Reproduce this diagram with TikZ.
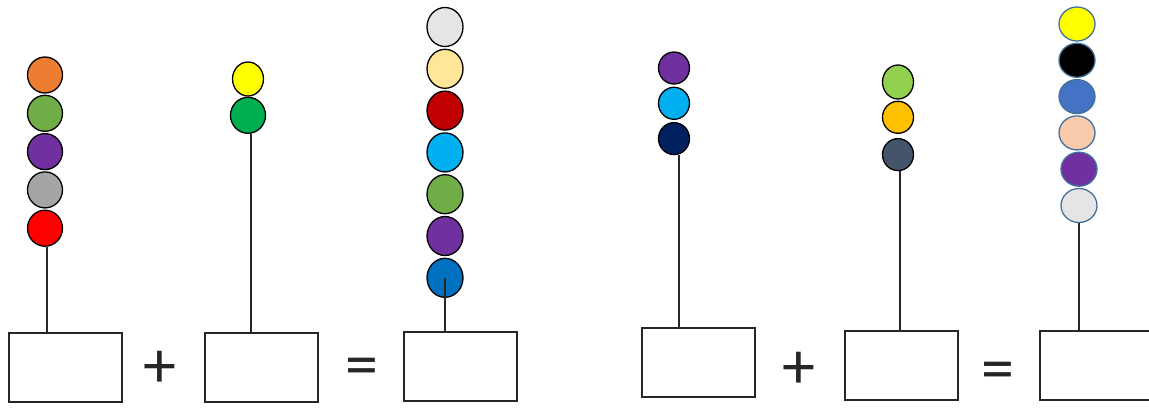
\documentclass[tikz,border=0pt]{standalone}
\usepackage{fontspec}
\setmainfont{Carlito}
\usetikzlibrary{shapes.geometric,positioning}
\definecolor{orangebead}{HTML}{ED7D31}
\definecolor{greenbead}{HTML}{70AD47}
\definecolor{purplebead}{HTML}{7030A0}
\definecolor{greybead}{HTML}{A5A5A5}
\definecolor{redbead}{HTML}{FF0000}
\definecolor{yellowbead}{HTML}{FFFF00}
\definecolor{emerald}{HTML}{00B050}
\definecolor{paper}{HTML}{E5E5E5}
\definecolor{cream}{HTML}{FFE699}
\definecolor{darkred}{HTML}{C00000}
\definecolor{skyblue}{HTML}{00B0F0}
\definecolor{bluebead}{HTML}{0070C0}
\definecolor{navy}{HTML}{002060}
\definecolor{lime}{HTML}{92D050}
\definecolor{amber}{HTML}{FFC000}
\definecolor{slate}{HTML}{44546A}
\definecolor{office}{HTML}{4472C4}
\definecolor{peach}{HTML}{F8CBAD}
\definecolor{rim}{HTML}{41719C}
\tikzstyle{bead} = [ellipse, draw=black, line width=1.3pt, minimum width=35pt, minimum height=36pt, inner sep=0pt]
\tikzstyle{smallbead} = [bead, minimum width=31pt, minimum height=32pt]
\tikzstyle{tallbead} = [bead, minimum width=36pt, minimum height=39pt]
\tikzstyle{pale} = [bead, draw=rim, minimum width=36pt, minimum height=34pt]
\tikzstyle{answer} = [rectangle, draw=black!85, line width=2pt, minimum width=113pt, minimum height=69pt]
\tikzstyle{stick} = [line width=1.8pt, black!85]
\tikzstyle{sign} = [font=\fontsize{66}{66}\selectfont, text=black!85, inner sep=0pt]

\begin{document}
\begin{tikzpicture}[x=1pt,y=-1pt]
\useasboundingbox (0,0) rectangle (1149,408);

% first sum
\node (a1) [bead, fill=orangebead] at (45,75) {};
\node (a2) [bead, fill=greenbead, below=1pt of a1] {};
\node (a3) [bead, fill=purplebead, below=1pt of a2] {};
\node (a4) [bead, fill=greybead, below=1pt of a3] {};
\node (a5) [bead, fill=redbead, below=1pt of a4] {};
\node (boxa) [answer] at (65,367) {};
\draw[stick] ([xshift=2pt]a5.south) -- ([xshift=2pt]a5.south |- boxa.north);

\node (plusa) [sign] at (160,369) {+};

\node (b1) [smallbead, fill=yellowbead, minimum height=34pt] at (248,79) {};
\node (b2) [bead, fill=emerald, below=0pt of b1] {};
\node (boxb) [answer] at (261,367) {};
\draw[stick] ([xshift=3pt]b2.south) -- ([xshift=3pt]b2.south |- boxb.north);

\node (eqa) [sign] at (362,372) {=};

\node (c1) [tallbead, fill=paper] at (445,27) {};
\node (c2) [tallbead, fill=cream, below=1.5pt of c1] {};
\node (c3) [tallbead, fill=darkred, below=1.5pt of c2] {};
\node (c4) [tallbead, fill=skyblue, below=1.5pt of c3] {};
\node (c5) [tallbead, fill=greenbead, below=1.5pt of c4] {};
\node (c6) [tallbead, fill=purplebead, below=1.5pt of c5] {};
\node (c7) [tallbead, fill=bluebead, below=1.5pt of c6] {};
\node (boxc) [answer] at (460,366) {};
\draw[stick] (c7.center) -- (c7.center |- boxc.north);

% second sum
\node (d1) [smallbead, fill=purplebead] at (674,68) {};
\node (d2) [smallbead, fill=skyblue, below=2pt of d1] {};
\node (d3) [smallbead, fill=navy, below=2pt of d2] {};
\node (boxd) [answer] at (698,362) {};
\draw[stick] ([xshift=5pt]d3.south) -- ([xshift=5pt]d3.south |- boxd.north);

\node (plusb) [sign] at (799,370) {+};

\node (e1) [smallbead, fill=lime, minimum height=34pt] at (898,82) {};
\node (e2) [smallbead, fill=amber, below=1pt of e1] {};
\node (e3) [smallbead, fill=slate, below=4pt of e2] {};
\node (boxe) [answer] at (901,365) {};
\draw[stick] ([xshift=2pt]e3.south) -- ([xshift=2pt]e3.south |- boxe.north);

\node (eqb) [sign] at (998,376) {=};

\node (f1) [pale, fill=yellowbead] at (1077,24) {};
\node (f2) [pale, fill=black, below=1pt of f1] {};
\node (f3) [pale, fill=office, below=1pt of f2] {};
\node (f4) [pale, fill=peach, below=1pt of f3] {};
\node (f5) [pale, fill=purplebead, below=1pt of f4, xshift=2pt] {};
\node (f6) [pale, fill=paper, below=1pt of f5] {};
\node (boxf) [answer] at (1096,365) {};
\draw[stick] (f6.south) -- (f6.south |- boxf.north);
\end{tikzpicture}
\end{document}
